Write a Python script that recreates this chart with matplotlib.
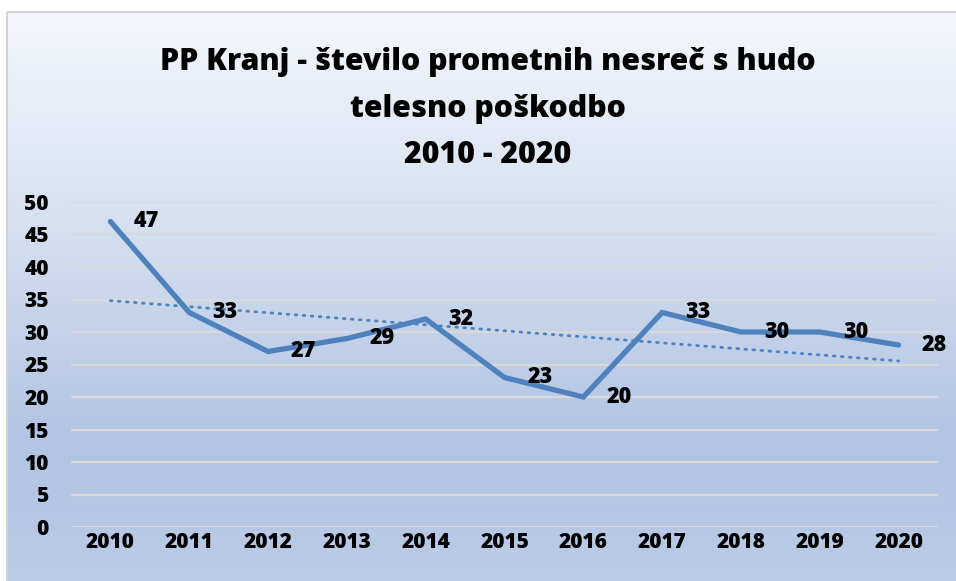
import numpy as np
import matplotlib.pyplot as plt
from matplotlib.colors import LinearSegmentedColormap
from matplotlib.patches import Rectangle

# data
years = ["2010", "2011", "2012", "2013", "2014", "2015", "2016", "2017", "2018", "2019", "2020"]
accidents = [47, 33, 27, 29, 32, 23, 20, 33, 30, 30, 28]
y_ticks = [0, 5, 10, 15, 20, 25, 30, 35, 40, 45, 50]

title_lines = ["PP Kranj - število prometnih nesreč s hudo", "telesno poškodbo", "2010 - 2020"]

plt.rcParams['font.family'] = ['Open Sans', 'DejaVu Sans']
line_color = "#4F81BD"
weight = 800

W, H = 956, 581
fig = plt.figure(figsize=(W / 100, H / 100), dpi=100)

# background gradient of the chart area
bg = fig.add_axes([0, 0, 1, 1], zorder=0)
bg.set_xlim(0, W)
bg.set_ylim(H, 0)
bg.axis("off")
cmap = LinearSegmentedColormap.from_list(
    "bg", [(0.0, "#F4F7FC"), (0.3, "#DCE5F3"), (0.75, "#B1C4E3"), (1.0, "#BBCCE7")])
grad = np.linspace(0, 1, 256).reshape(-1, 1)
bg.imshow(grad, cmap=cmap, aspect="auto", extent=[7, W + 5, H + 5, 12])
bg.add_patch(Rectangle((7, 12), W, H, fill=False, edgecolor="#D4D4D4", lw=1.5))

ax = fig.add_axes([71 / W, 1 - 527 / H, (938 - 71) / W, (527 - 202) / H], zorder=1)
ax.patch.set_alpha(0)
x = np.arange(len(years))

# gridlines
for v in y_ticks:
    ax.axhline(v, color="#D9D9D9", lw=1.6, zorder=1)

ax.plot(x, accidents, color=line_color, lw=3.8, solid_capstyle="round",
        solid_joinstyle="miter", zorder=3)

# linear trend line
k, n = np.polyfit(x, accidents, 1)
ax.plot(x, k * x + n, color=line_color, lw=2, linestyle=(0, (0.6, 2.3)),
        dash_capstyle="round", zorder=2)

for xi, v in zip(x, accidents):
    ax.annotate(str(v), (xi, v), xytext=(23, 0), textcoords="offset pixels",
                ha="left", va="center", fontsize=15.5, fontweight=weight, zorder=4)

ax.set_xlim(-0.5, len(years) - 0.5)
ax.set_ylim(0, 50)
ax.set_xticks(x)
ax.set_xticklabels(years, fontsize=15, fontweight=weight)
ax.set_yticks(y_ticks)
ax.set_yticklabels([str(v) for v in y_ticks], fontsize=15, fontweight=weight)
ax.tick_params(length=0)
ax.tick_params(axis="y", pad=16)
ax.tick_params(axis="x", pad=3.5)
for s in ax.spines.values():
    s.set_visible(False)

for i, line in enumerate(title_lines):
    fig.text(488 / W, 1 - (62 + 46.5 * i) / H, line, ha="center", va="center",
             fontsize=21.8, fontweight=weight)

fig.savefig("out.png", dpi=100)
